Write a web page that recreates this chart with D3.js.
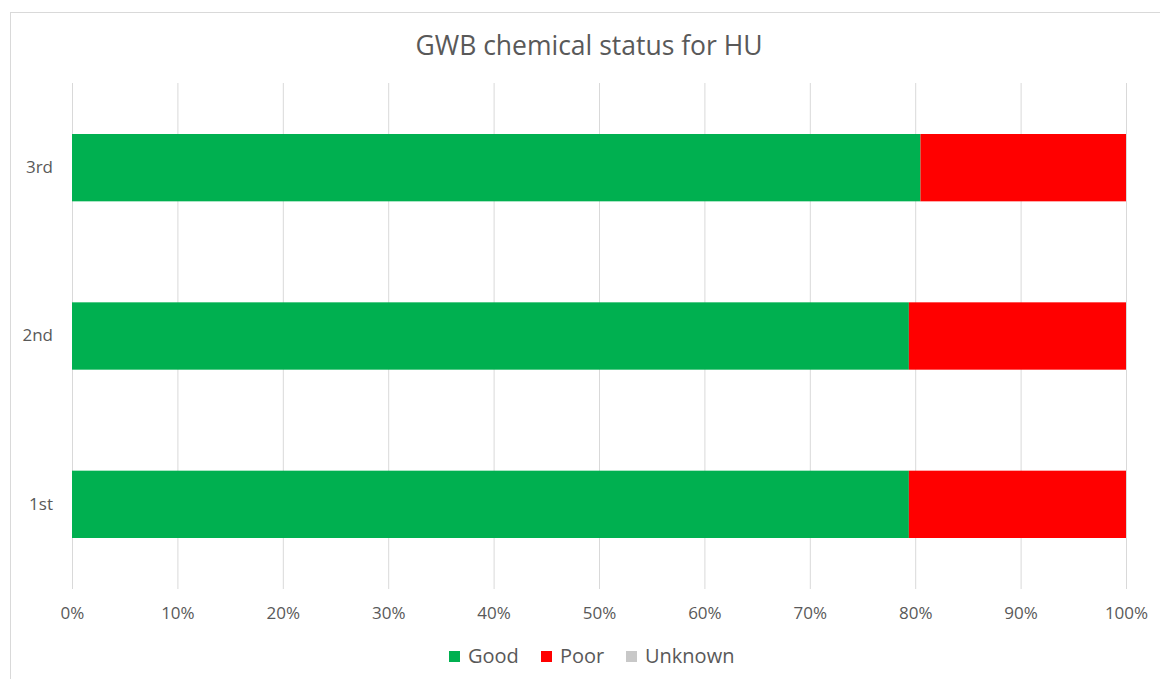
<!DOCTYPE html>
<html><head><meta charset="utf-8">
<script src="https://cdn.jsdelivr.net/npm/d3@7"></script>
<style>
body{margin:0;background:#fff;}
text{font-family:"Open Sans",sans-serif;fill:#595959;}
</style></head>
<body>
<svg id="c" width="1160" height="679"></svg>
<script>
const categories = ["1st","2nd","3rd"];
const good = [79.4, 79.4, 80.5];
const poor = [20.6, 20.6, 19.5];
const unknown = [0, 0, 0];
const seriesNames = ["Good","Poor","Unknown"];
const seriesColors = ["#00b050","#ff0000","#c8c8c8"];
const xTicks = [0,10,20,30,40,50,60,70,80,90,100];

const svg = d3.select("#c");
svg.append("rect").attr("x",10.5).attr("y",12.5).attr("width",1160).attr("height",700)
  .attr("fill","#fff").attr("stroke","#d9d9d9");

const x = d3.scaleLinear().domain([0,100]).range([72,1126]);
const y = d3.scaleBand().domain(categories.slice().reverse()).range([83.5,588.5]).paddingInner(0.6).paddingOuter(0.3);

// gridlines
svg.append("g").selectAll("line").data(xTicks).join("line")
  .attr("x1",d=>x(d)+0.5).attr("x2",d=>x(d)+0.5).attr("y1",83).attr("y2",589)
  .attr("stroke","#d9d9d9").attr("stroke-width",1);

const rows = categories.map((c,i)=>({cat:c, Good:good[i], Poor:poor[i], Unknown:unknown[i]}));
const stack = d3.stack().keys(seriesNames)(rows);
svg.append("g").selectAll("g").data(stack).join("g")
  .attr("fill",(d,i)=>seriesColors[i])
  .selectAll("rect").data(d=>d).join("rect")
  .attr("x",d=>x(d[0])).attr("width",d=>x(d[1])-x(d[0]))
  .attr("y",d=>y(d.data.cat)).attr("height",y.bandwidth());

// x axis labels
const xa = d3.axisBottom(x).tickValues(xTicks).tickFormat(d=>d+"%").tickSize(0).tickPadding(0);
const gx = svg.append("g").attr("transform","translate(0,607)").call(xa);
gx.select(".domain").remove();
gx.selectAll("text").attr("font-size",17).attr("font-family","Open Sans").attr("fill","#595959").attr("dy","0.71em");

// y axis labels
const ya = d3.axisLeft(y).tickSize(0).tickPadding(0);
const gy = svg.append("g").attr("transform","translate(53,0)").call(ya);
gy.select(".domain").remove();
gy.selectAll("text").attr("font-size",17).attr("font-family","Open Sans").attr("fill","#595959");

// title
svg.append("text").attr("x",589).attr("y",55).attr("text-anchor","middle")
  .attr("font-size",26.5).text("GWB chemical status for HU");

// legend
const legX = [449, 541, 626];
const lg = svg.append("g").selectAll("g").data(seriesNames).join("g")
  .attr("transform",(d,i)=>`translate(${legX[i]},651)`);
lg.append("rect").attr("width",11).attr("height",11).attr("fill",(d,i)=>seriesColors[i]);
lg.append("text").attr("x",19).attr("y",12).attr("font-size",20).text(d=>d);
</script>
</body></html>
